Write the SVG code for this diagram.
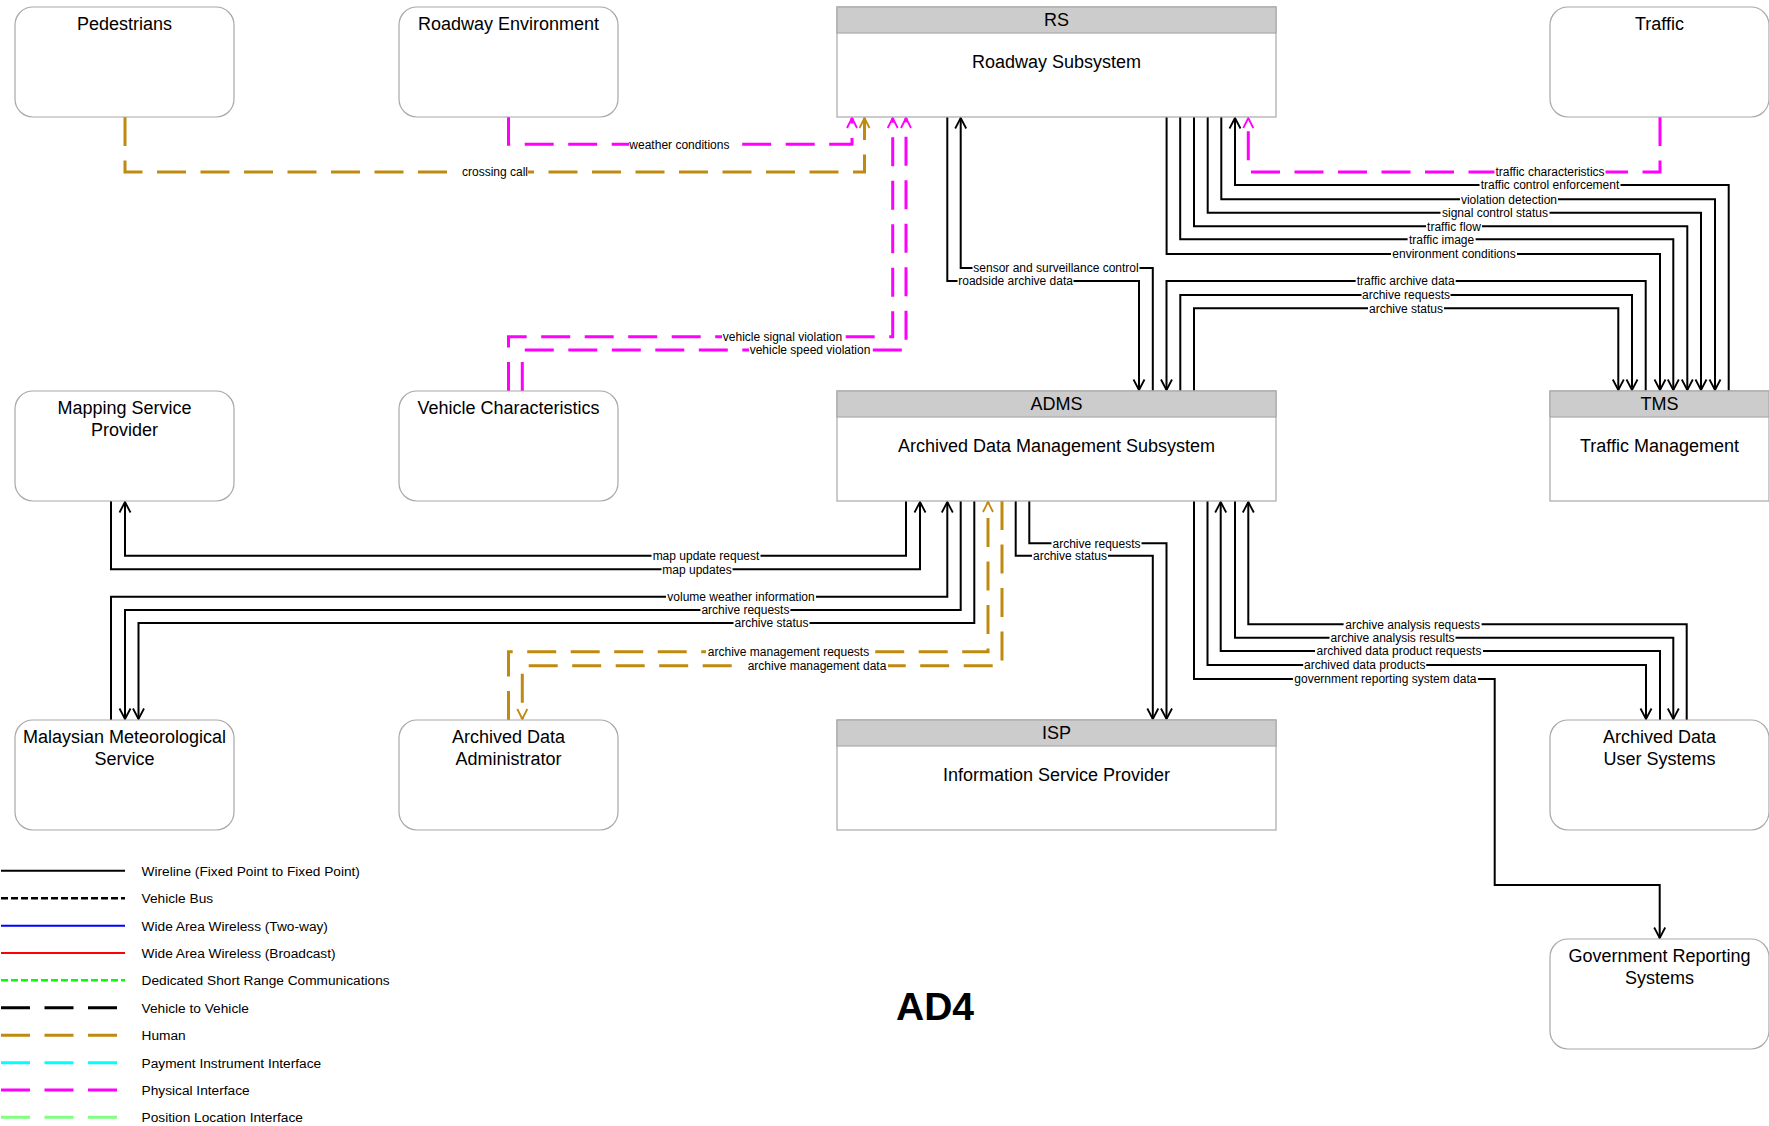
<svg xmlns="http://www.w3.org/2000/svg" width="1769" height="1126" viewBox="0 0 1769 1126">
<style>
text{font-family:"Liberation Sans",Arial,sans-serif;fill:#000}
.box{fill:#fff;stroke:#a8a8a8;stroke-width:1.2}
.hdr{fill:#cccccc;stroke:#a8a8a8;stroke-width:1.2}
.nt{font-size:18px;text-anchor:middle}
.w{fill:none;stroke:#000;stroke-width:2}
.hu{fill:none;stroke:#c08a10;stroke-width:3;stroke-dasharray:29 14.5}
.ph{fill:none;stroke:#ff00ff;stroke-width:3;stroke-dasharray:29 14.5}
.lb{font-size:12px;text-anchor:middle}
.bg{fill:#fff}
.lg{font-size:13.7px}
</style>
<defs>
<marker id="aw" markerUnits="userSpaceOnUse" viewBox="-12 -8 14 16" markerWidth="14" markerHeight="16" refX="0" refY="0" orient="auto"><path d="M-10.5,-5.5 L0,0 L-10.5,5.5" fill="none" stroke="#000" stroke-width="1.8"/></marker>
<marker id="ah" markerUnits="userSpaceOnUse" viewBox="-12 -8 14 16" markerWidth="14" markerHeight="16" refX="0" refY="0" orient="auto"><path d="M-10,-5 L0,0 L-10,5" fill="none" stroke="#c08a10" stroke-width="1.8"/></marker>
<marker id="ap" markerUnits="userSpaceOnUse" viewBox="-12 -8 14 16" markerWidth="14" markerHeight="16" refX="0" refY="0" orient="auto"><path d="M-10,-5 L0,0 L-10,5" fill="none" stroke="#ff00ff" stroke-width="1.8"/></marker>
</defs>
<rect width="1769" height="1126" fill="#fff"/>

<g id="connectors">
<path class="hu" d="M125,117 V172 H864.5 V118" marker-end="url(#ah)"/>
<path class="ph" d="M508.5,117 V144.3 H852 V118" marker-end="url(#ap)"/>
<path class="ph" d="M508.5,391 V336.7 H892.7 V118" marker-end="url(#ap)"/>
<path class="ph" d="M522.3,391 V350 H906 V118" marker-end="url(#ap)"/>
<path class="w" d="M947.3,117 V281 H1139 V390" marker-end="url(#aw)"/>
<path class="w" d="M1152.8,391 V268 H960.7 V118" marker-end="url(#aw)"/>
<path class="w" d="M1645.7,391 V281 H1166.5 V390" marker-end="url(#aw)"/>
<path class="w" d="M1180.3,391 V295 H1632 V390" marker-end="url(#aw)"/>
<path class="w" d="M1194,391 V308.3 H1618.3 V390" marker-end="url(#aw)"/>
<path class="w" d="M1728.7,391 V185 H1235 V118" marker-end="url(#aw)"/>
<path class="w" d="M1221.3,117 V199.3 H1715 V390" marker-end="url(#aw)"/>
<path class="w" d="M1207.7,117 V212.7 H1701 V390" marker-end="url(#aw)"/>
<path class="w" d="M1194,117 V226.3 H1687.3 V390" marker-end="url(#aw)"/>
<path class="w" d="M1180.2,117 V239.3 H1673.3 V390" marker-end="url(#aw)"/>
<path class="w" d="M1166.6,117 V254 H1660 V390" marker-end="url(#aw)"/>
<path class="ph" d="M1660,117 V172 H1248.3 V118" marker-end="url(#ap)"/>
<path class="w" d="M906,501 V555.7 H125 V502" marker-end="url(#aw)"/>
<path class="w" d="M111,501 V569.3 H920 V502" marker-end="url(#aw)"/>
<path class="w" d="M111,720 V596.7 H947.3 V502" marker-end="url(#aw)"/>
<path class="w" d="M960.7,501 V610 H125 V719" marker-end="url(#aw)"/>
<path class="w" d="M974.3,501 V623 H138.5 V719" marker-end="url(#aw)"/>
<path class="hu" d="M508.5,720 V651.7 H988 V502" marker-end="url(#ah)"/>
<path class="hu" d="M1002,501 V665.7 H522.3 V719" marker-end="url(#ah)"/>
<path class="w" d="M1029.3,501 V543.3 H1166.5 V719" marker-end="url(#aw)"/>
<path class="w" d="M1015.7,501 V555.7 H1152.8 V719" marker-end="url(#aw)"/>
<path class="w" d="M1686.7,720 V624.3 H1248.3 V502" marker-end="url(#aw)"/>
<path class="w" d="M1235,501 V637.7 H1673.3 V719" marker-end="url(#aw)"/>
<path class="w" d="M1660,720 V651 H1220.7 V502" marker-end="url(#aw)"/>
<path class="w" d="M1207.5,501 V665 H1646 V719" marker-end="url(#aw)"/>
<path class="w" d="M1194,501 V679 H1494.7 V885 H1659.7 V938" marker-end="url(#aw)"/>

<g id="labels">
<rect class="bg" x="461" y="166" width="67" height="12"/><text class="lb" x="495" y="176.3">crossing call</text>
<rect class="bg" x="629" y="138" width="101" height="12"/><text class="lb" x="679.4" y="148.6">weather conditions</text>
<rect class="bg" x="722" y="330.5" width="121" height="12"/><text class="lb" x="782.5" y="341">vehicle signal violation</text>
<rect class="bg" x="749" y="344" width="122" height="12"/><text class="lb" x="810" y="354.3">vehicle speed violation</text>
<rect class="bg" x="957.5" y="275" width="116" height="12"/><text class="lb" x="1015.6" y="285.3">roadside archive data</text>
<rect class="bg" x="972.5" y="262" width="167" height="12"/><text class="lb" x="1056" y="272.3">sensor and surveillance control</text>
<rect class="bg" x="1355.7" y="275" width="100" height="12"/><text class="lb" x="1405.7" y="285.3">traffic archive data</text>
<rect class="bg" x="1361.5" y="289" width="89" height="12"/><text class="lb" x="1406" y="299.3">archive requests</text>
<rect class="bg" x="1368" y="302" width="76" height="12"/><text class="lb" x="1406" y="312.6">archive status</text>
<rect class="bg" x="1479.5" y="179" width="141" height="12"/><text class="lb" x="1550" y="189.3">traffic control enforcement</text>
<rect class="bg" x="1460" y="193" width="98" height="12"/><text class="lb" x="1509" y="203.6">violation detection</text>
<rect class="bg" x="1440.5" y="206.5" width="109" height="12"/><text class="lb" x="1495" y="217">signal control status</text>
<rect class="bg" x="1426" y="220" width="56" height="12"/><text class="lb" x="1454" y="230.6">traffic flow</text>
<rect class="bg" x="1407.6" y="233" width="68" height="12"/><text class="lb" x="1441.6" y="243.6">traffic image</text>
<rect class="bg" x="1391" y="248" width="126" height="12"/><text class="lb" x="1454" y="258.3">environment conditions</text>
<rect class="bg" x="1494.5" y="166" width="111" height="12"/><text class="lb" x="1550" y="176.3">traffic characteristics</text>
<rect class="bg" x="651.5" y="549.5" width="109" height="12"/><text class="lb" x="706" y="560">map update request</text>
<rect class="bg" x="661.5" y="563" width="71" height="12"/><text class="lb" x="697" y="573.6">map updates</text>
<rect class="bg" x="666" y="590.5" width="150" height="12"/><text class="lb" x="741" y="601">volume weather information</text>
<rect class="bg" x="700.4" y="604" width="90" height="12"/><text class="lb" x="745.4" y="614.3">archive requests</text>
<rect class="bg" x="733.5" y="617" width="76" height="12"/><text class="lb" x="771.5" y="627.3">archive status</text>
<rect class="bg" x="706" y="645.5" width="165" height="12"/><text class="lb" x="788.5" y="656">archive management requests</text>
<rect class="bg" x="746" y="659.5" width="142" height="12"/><text class="lb" x="817" y="670">archive management data</text>
<rect class="bg" x="1051.5" y="537" width="90" height="12"/><text class="lb" x="1096.5" y="547.6">archive requests</text>
<rect class="bg" x="1032" y="549.5" width="76" height="12"/><text class="lb" x="1070" y="560">archive status</text>
<rect class="bg" x="1343.6" y="618" width="138" height="12"/><text class="lb" x="1412.6" y="628.6">archive analysis requests</text>
<rect class="bg" x="1329.5" y="631.5" width="126" height="12"/><text class="lb" x="1392.5" y="642">archive analysis results</text>
<rect class="bg" x="1315" y="645" width="168" height="12"/><text class="lb" x="1399" y="655.3">archived data product requests</text>
<rect class="bg" x="1303.2" y="659" width="123" height="12"/><text class="lb" x="1364.7" y="669.3">archived data products</text>
<rect class="bg" x="1292.9" y="673" width="185" height="12"/><text class="lb" x="1385.4" y="683.3">government reporting system data</text>
</g>
</g>

<g id="pedestrians"><rect class="box" x="15" y="7" width="219" height="110" rx="18"/><text class="nt" x="124.5" y="30">Pedestrians</text></g>
<g id="roadway-environment"><rect class="box" x="399" y="7" width="219" height="110" rx="18"/><text class="nt" x="508.5" y="30">Roadway Environment</text></g>
<g id="rs"><rect class="box" x="837" y="7" width="439" height="110"/><rect class="hdr" x="837" y="7" width="439" height="26"/><text class="nt" x="1056.5" y="26">RS</text><text class="nt" x="1056.5" y="68">Roadway Subsystem</text></g>
<g id="traffic"><rect class="box" x="1550" y="7" width="219" height="110" rx="18"/><text class="nt" x="1659.5" y="30">Traffic</text></g>
<g id="mapping-service-provider"><rect class="box" x="15" y="391" width="219" height="110" rx="18"/><text class="nt" x="124.5" y="414">Mapping Service</text><text class="nt" x="124.5" y="436">Provider</text></g>
<g id="vehicle-characteristics"><rect class="box" x="399" y="391" width="219" height="110" rx="18"/><text class="nt" x="508.5" y="414">Vehicle Characteristics</text></g>
<g id="adms"><rect class="box" x="837" y="391" width="439" height="110"/><rect class="hdr" x="837" y="391" width="439" height="26"/><text class="nt" x="1056.5" y="410">ADMS</text><text class="nt" x="1056.5" y="452">Archived Data Management Subsystem</text></g>
<g id="tms"><rect class="box" x="1550" y="391" width="219" height="110"/><rect class="hdr" x="1550" y="391" width="219" height="26"/><text class="nt" x="1659.5" y="410">TMS</text><text class="nt" x="1659.5" y="452">Traffic Management</text></g>
<g id="malaysian-meteorological-service"><rect class="box" x="15" y="720" width="219" height="110" rx="18"/><text class="nt" x="124.5" y="743">Malaysian Meteorological</text><text class="nt" x="124.5" y="765">Service</text></g>
<g id="archived-data-administrator"><rect class="box" x="399" y="720" width="219" height="110" rx="18"/><text class="nt" x="508.5" y="743">Archived Data</text><text class="nt" x="508.5" y="765">Administrator</text></g>
<g id="isp"><rect class="box" x="837" y="720" width="439" height="110"/><rect class="hdr" x="837" y="720" width="439" height="26"/><text class="nt" x="1056.5" y="739">ISP</text><text class="nt" x="1056.5" y="781">Information Service Provider</text></g>
<g id="archived-data-user-systems"><rect class="box" x="1550" y="720" width="219" height="110" rx="18"/><text class="nt" x="1659.5" y="743">Archived Data</text><text class="nt" x="1659.5" y="765">User Systems</text></g>
<g id="government-reporting-systems"><rect class="box" x="1550" y="939" width="219" height="110" rx="18"/><text class="nt" x="1659.5" y="962">Government Reporting</text><text class="nt" x="1659.5" y="984">Systems</text></g>

<g id="legend">
<line x1="1" y1="870.7" x2="125" y2="870.7" stroke="#000" stroke-width="2"/><text class="lg" x="141.6" y="875.5">Wireline (Fixed Point to Fixed Point)</text>
<line x1="1" y1="898.3" x2="125" y2="898.3" stroke="#000" stroke-width="2.5" stroke-dasharray="7 3"/><text class="lg" x="141.6" y="903">Vehicle Bus</text>
<line x1="1" y1="925.7" x2="125" y2="925.7" stroke="#0000ff" stroke-width="2"/><text class="lg" x="141.6" y="930.5">Wide Area Wireless (Two-way)</text>
<line x1="1" y1="953" x2="125" y2="953" stroke="#ff0000" stroke-width="2"/><text class="lg" x="141.6" y="957.8">Wide Area Wireless (Broadcast)</text>
<line x1="1" y1="980.3" x2="125" y2="980.3" stroke="#00ff00" stroke-width="2.5" stroke-dasharray="7 3"/><text class="lg" x="141.6" y="985">Dedicated Short Range Communications</text>
<line x1="1" y1="1007.7" x2="125" y2="1007.7" stroke="#000" stroke-width="3" stroke-dasharray="29 14.5"/><text class="lg" x="141.6" y="1012.5">Vehicle to Vehicle</text>
<line x1="1" y1="1035.3" x2="125" y2="1035.3" stroke="#c08a10" stroke-width="3" stroke-dasharray="29 14.5"/><text class="lg" x="141.6" y="1040">Human</text>
<line x1="1" y1="1062.7" x2="125" y2="1062.7" stroke="#00ffff" stroke-width="3" stroke-dasharray="29 14.5"/><text class="lg" x="141.6" y="1067.5">Payment Instrument Interface</text>
<line x1="1" y1="1090" x2="125" y2="1090" stroke="#ff00ff" stroke-width="3" stroke-dasharray="29 14.5"/><text class="lg" x="141.6" y="1094.8">Physical Interface</text>
<line x1="1" y1="1117.3" x2="125" y2="1117.3" stroke="#80ff80" stroke-width="3" stroke-dasharray="29 14.5"/><text class="lg" x="141.6" y="1122">Position Location Interface</text>
</g>
<text x="935" y="1020" font-size="39" font-weight="bold" text-anchor="middle" style="font-family:'Liberation Sans',Arial,sans-serif">AD4</text>
</svg>
